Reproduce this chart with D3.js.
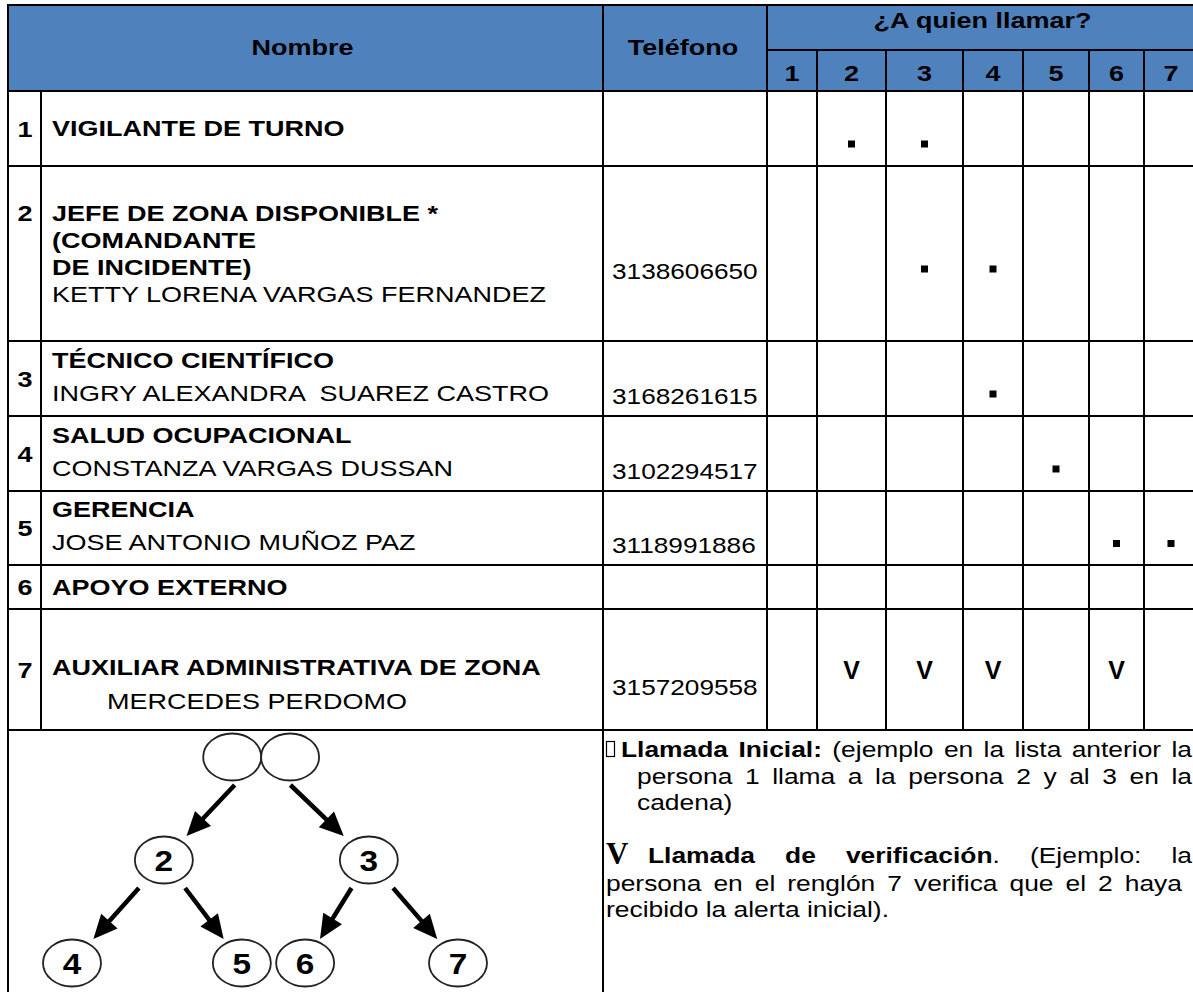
<!DOCTYPE html>
<html><head><meta charset="utf-8">
<script src="https://cdn.jsdelivr.net/npm/d3@7"></script>
<style>body{margin:0;background:#fff}svg{display:block}text{white-space:pre}</style>
</head><body><svg id="c" width="1193" height="992"></svg>
<script>
// ---------- DATA ----------
const headerLabels = ["Nombre", "Teléfono", "¿A quien llamar?"];
const callColumns = [1, 2, 3, 4, 5, 6, 7];
const rowNumbers = [1, 2, 3, 4, 5, 6, 7];
const rowTitles = [
  ["VIGILANTE DE TURNO"],
  ["JEFE DE ZONA DISPONIBLE *", "(COMANDANTE", "DE INCIDENTE)"],
  ["TÉCNICO CIENTÍFICO"],
  ["SALUD OCUPACIONAL"],
  ["GERENCIA"],
  ["APOYO EXTERNO"],
  ["", "AUXILIAR ADMINISTRATIVA DE ZONA"]
];
const rowPersons = ["", "KETTY LORENA VARGAS FERNANDEZ", "INGRY ALEXANDRA  SUAREZ CASTRO",
  "CONSTANZA VARGAS DUSSAN", "JOSE ANTONIO MUÑOZ PAZ", "", "MERCEDES PERDOMO"];
const rowPhones = ["", "3138606650", "3168261615", "3102294517", "3118991886", "", "3157209558"];
const initialCalls = [[2, 3], [3, 4], [4], [5], [6, 7], [], []];
const verifyCalls = [[], [], [], [], [], [], [2, 3, 4, 6]];
const verifyMark = "V";

const legendInitialLines = [
  [["Llamada", true], ["Inicial:", true], ["(ejemplo", false], ["en", false], ["la", false], ["lista", false], ["anterior", false], ["la", false]],
  [["persona", false], ["1", false], ["llama", false], ["a", false], ["la", false], ["persona", false], ["2", false], ["y", false], ["al", false], ["3", false], ["en", false], ["la", false]],
  [["cadena)", false]]
];
const legendVerifyLines = [
  [["Llamada", true], ["de", true], [["verificación", true], [".", false]], ["(Ejemplo:", false], ["la", false]],
  [["persona", false], ["en", false], ["el", false], ["renglón", false], ["7", false], ["verifica", false], ["que", false], ["el", false], ["2", false], ["haya", false]],
  [["recibido la alerta inicial).", false]]
];

const treeNodes = [
  { id: "p1", label: "", level: 0, slot: 4.15 },
  { id: "p2", label: "", level: 0, slot: 5.65 },
  { id: "2", label: "2", level: 1, slot: 2.38 },
  { id: "3", label: "3", level: 1, slot: 7.69 },
  { id: "4", label: "4", level: 2, slot: 0 },
  { id: "5", label: "5", level: 2, slot: 4.40 },
  { id: "6", label: "6", level: 2, slot: 6.04 },
  { id: "7", label: "7", level: 2, slot: 10 }
];
const treeEdges = [["p", "2"], ["p", "3"], ["2", "4"], ["2", "5"], ["3", "6"], ["3", "7"]];

// ---------- LAYOUT / STYLE ----------
const L = {
  left: 8, numRight: 41, nameRight: 603, phoneRight: 767,
  callEdges: [767, 817, 886, 963, 1023, 1089, 1144, 1198],
  top: 5, subHeader: 50, headerBottom: 91,
  rowBottoms: [166, 341, 416, 491, 565, 609, 730],
  linePitch: [27, 26.7, 33, 33, 33, 27, 33.5],
  bottom: 992
};
const SANS = "'Liberation Sans', Arial, Helvetica, sans-serif";
const SERIF = "'Liberation Serif', 'Times New Roman', serif";
const SX = 1.2;
const FS = 22.5;
const HEADER_FILL = "#4f81bd";

const svg = d3.select("#c");
const gFill = svg.append("g");
const gText = svg.append("g");
const gLines = svg.append("g");

function addText(g, x, y, str, o = {}) {
  const sx = o.sx ?? SX;
  return g.append("text")
    .attr("transform", `translate(${x},${y}) scale(${sx},1)`)
    .attr("text-anchor", o.anchor || "start")
    .attr("font-size", o.size || FS)
    .attr("font-weight", o.weight || "normal")
    .attr("font-family", o.family || SANS)
    .attr("fill", "#000")
    .text(str);
}

// scales
const rowTops = [L.headerBottom, ...L.rowBottoms.slice(0, -1)];
const rowCenter = d3.scaleOrdinal(rowNumbers, rowNumbers.map((d, i) => (rowTops[i] + L.rowBottoms[i]) / 2));
const colCenter = d3.scaleOrdinal(callColumns, callColumns.map((d, i) => (L.callEdges[i] + L.callEdges[i + 1]) / 2));
const R = L.callEdges[L.callEdges.length - 1];

// header background
gFill.append("rect").attr("x", L.left).attr("y", L.top).attr("width", R - L.left)
  .attr("height", L.headerBottom - L.top).attr("fill", HEADER_FILL);

// header texts
addText(gText, (L.left + L.nameRight) / 2 - 3, 55, headerLabels[0], { anchor: "middle", weight: "bold" });
addText(gText, (L.nameRight + L.phoneRight) / 2 - 2, 55, headerLabels[1], { anchor: "middle", weight: "bold" });
addText(gText, (L.phoneRight + R) / 2, 28, headerLabels[2], { anchor: "middle", weight: "bold" });
callColumns.forEach(c => addText(gText, colCenter(c), 81, String(c), { anchor: "middle", weight: "bold" }));

// rows
rowNumbers.forEach((n, i) => {
  const cy = rowCenter(n);
  const titles = rowTitles[i];
  const lines = titles.map(t => ({ t, bold: true }));
  if (rowPersons[i]) lines.push({ t: rowPersons[i], bold: false });
  const pitch = L.linePitch[i];
  const k = lines.length;
  const base = k >= 4 ? cy + 8 : cy + (k === 1 ? 7.5 : 5.5);
  lines.forEach((ln, j) => {
    const y = base + (j - (k - 1) / 2) * pitch;
    const indent = (!ln.bold && titles[0] === "") ? 55 : 0;
    if (ln.t) addText(gText, 52 + indent, y, ln.t, { weight: ln.bold ? "bold" : "normal" });
  });
  const numY = k >= 4 ? base + (0 - (k - 1) / 2) * pitch : cy + 8;
  addText(gText, (L.left + L.numRight) / 2 + 0.5, numY, String(n), { anchor: "middle", weight: "bold" });
  if (rowPhones[i]) addText(gText, 612, cy + 25, rowPhones[i], { sx: 1.165 });
  initialCalls[i].forEach(c => {
    gText.append("rect").attr("x", colCenter(c) - 3.5).attr("y", cy + 15.5 - 3.5)
      .attr("width", 7).attr("height", 7).attr("fill", "#000");
  });
  verifyCalls[i].forEach(c => addText(gText, colCenter(c), cy + 9, verifyMark,
    { anchor: "middle", weight: "bold", size: 25, sx: 1.0 }));
});

// grid lines
function hline(x1, x2, y) { gLines.append("line").attr("x1", x1).attr("x2", x2).attr("y1", y).attr("y2", y).attr("stroke", "#000").attr("stroke-width", 2); }
function vline(x, y1, y2) { gLines.append("line").attr("x1", x).attr("x2", x).attr("y1", y1).attr("y2", y2).attr("stroke", "#000").attr("stroke-width", 2); }
hline(L.left - 1, R, L.top);
hline(L.phoneRight, R, L.subHeader);
hline(L.left - 1, R, L.headerBottom);
L.rowBottoms.forEach(y => hline(L.left - 1, R, y));
vline(L.left, L.top, L.bottom + 5);
vline(L.numRight, L.headerBottom, L.rowBottoms[L.rowBottoms.length - 1]);
vline(L.nameRight, L.top, L.bottom + 5);
vline(L.phoneRight, L.top, L.rowBottoms[L.rowBottoms.length - 1]);
L.callEdges.slice(1).forEach(x => vline(x, L.subHeader, L.rowBottoms[L.rowBottoms.length - 1]));

// ---------- legend ----------
const gLeg = svg.append("g");
function wordNode(g, w, size) {
  const t = g.append("text").attr("font-size", size).attr("font-family", SANS).attr("fill", "#000");
  const parts = Array.isArray(w[0]) ? w : [w];
  parts.forEach(p => t.append("tspan").attr("font-weight", p[1] ? "bold" : "normal").text(p[0]));
  return t;
}
function legendLine(words, x0, x1, y, justify, size = 22) {
  const nodes = words.map(w => wordNode(gLeg, w, size));
  const widths = nodes.map(n => n.node().getComputedTextLength() * SX);
  const gap = justify && words.length > 1 ? (x1 - x0 - d3.sum(widths)) / (words.length - 1) : 0;
  let x = x0;
  nodes.forEach((n, i) => { n.attr("transform", `translate(${x},${y}) scale(${SX},1)`); x += widths[i] + gap; });
}
// initial-call legend
gLeg.append("rect").attr("x", 606.5).attr("y", 741.5).attr("width", 8).attr("height", 15)
  .attr("fill", "none").attr("stroke", "#000").attr("stroke-width", 1.2);
legendLine(legendInitialLines[0], 621, 1192, 757, true);
legendLine(legendInitialLines[1], 637, 1192, 784, true);
legendLine(legendInitialLines[2], 637, 1192, 810, false);
// verification legend
addText(gLeg, 606, 864, verifyMark, { family: SERIF, weight: "bold", size: 31, sx: 1.0 });
legendLine(legendVerifyLines[0], 648, 1192, 863, true);
legendLine(legendVerifyLines[1], 606, 1182, 891, true);
legendLine(legendVerifyLines[2], 606, 1192, 917, false);

// ---------- tree diagram ----------
const gTree = svg.append("g");
const tx = d3.scaleLinear([0, 10], [72, 458]);
const ty = d3.scaleLinear([0, 2], [757, 963]);
const RX = 29, RY = 23.5;
const pos = {};
treeNodes.forEach(n => pos[n.id] = { x: tx(n.slot), y: ty(n.level) });
pos.p = { x: (pos.p1.x + pos.p2.x) / 2, y: pos.p1.y };
treeEdges.forEach(([s, t]) => {
  const a = pos[s], b = pos[t];
  const dx = b.x - a.x, dy = b.y - a.y;
  const t0 = 28 / dy, t1 = 1 - 24 / dy;
  const sx = a.x + dx * t0, sy = a.y + dy * t0;
  const ex = a.x + dx * t1, ey = a.y + dy * t1;
  const len = Math.hypot(dx, dy), ux = dx / len, uy = dy / len;
  const HL = 24, HW = 11;
  const bx = ex - ux * HL, by = ey - uy * HL;
  gTree.append("line").attr("x1", sx).attr("y1", sy).attr("x2", bx + ux * 2).attr("y2", by + uy * 2)
    .attr("stroke", "#000").attr("stroke-width", 4.5);
  gTree.append("path").attr("d", `M${ex},${ey} L${bx - uy * HW},${by + ux * HW} L${bx + uy * HW},${by - ux * HW} Z`)
    .attr("fill", "#000");
});
treeNodes.forEach(n => {
  const p = pos[n.id];
  gTree.append("ellipse").attr("cx", p.x).attr("cy", p.y).attr("rx", RX).attr("ry", RY)
    .attr("fill", "#fff").attr("stroke", "#222").attr("stroke-width", 1.8);
  if (n.label) addText(gTree, p.x, p.y + 10.5, n.label, { anchor: "middle", weight: "bold", size: 29, sx: 1.15 });
});
</script>
</body></html>
